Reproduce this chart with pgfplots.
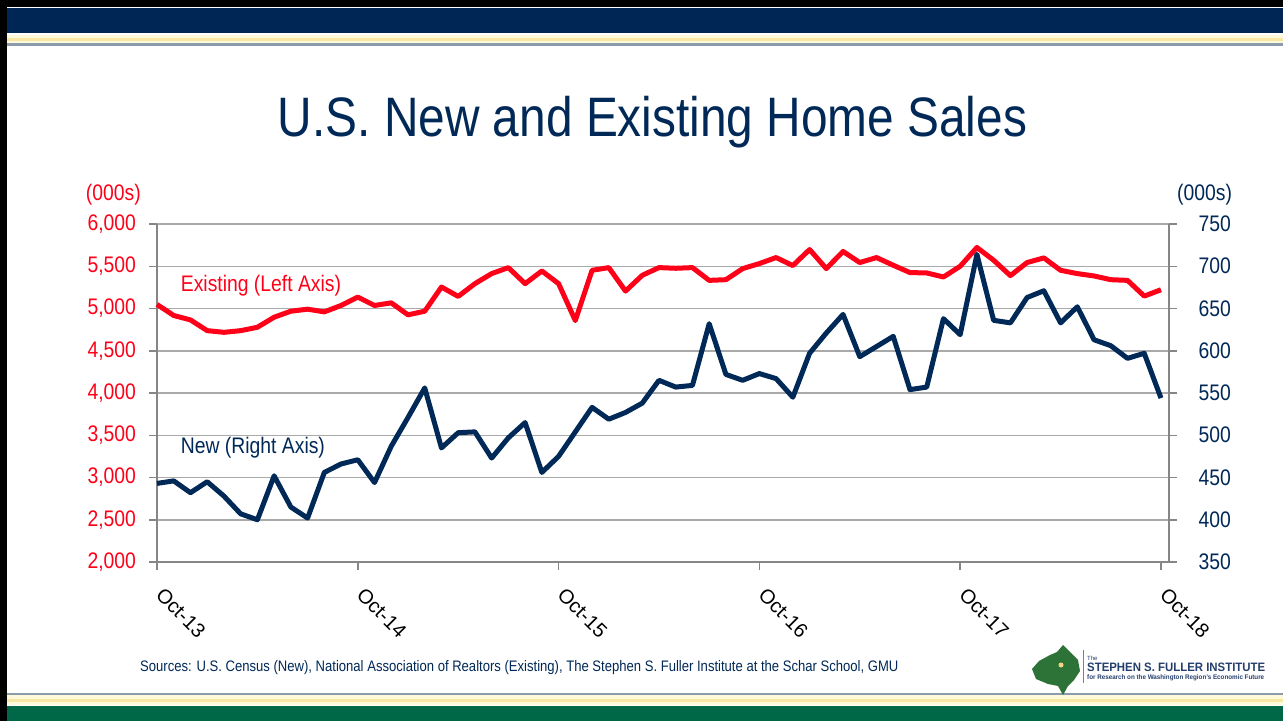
\documentclass[border=0pt]{standalone}
\usepackage{pgfplots}
\pgfplotsset{compat=1.18}
\usepackage{pgfplotstable}
\usepackage{fontspec}
\setmainfont{Liberation Sans}
\definecolor{navy}{RGB}{0,41,87}
\definecolor{myred}{RGB}{255,0,25}
\definecolor{gridc}{RGB}{170,170,170}
\definecolor{axc}{RGB}{134,134,134}
\definecolor{bannernavy}{RGB}{0,38,86}
\definecolor{bgreen}{RGB}{0,104,70}
\definecolor{cream}{RGB}{255,249,220}
\definecolor{yel}{RGB}{246,231,165}
\definecolor{strgray}{RGB}{140,155,170}
\definecolor{logogreen}{RGB}{45,115,55}
\definecolor{logoblue}{RGB}{37,63,109}

\pgfplotstableread{
i e n
0 5048 443
1 4917 446
2 4865 432
3 4738 445
4 4718 428
5 4738 407
6 4778 400
7 4897 452
8 4968 415
9 4992 402
10 4960 456
11 5036 466
12 5135 471
13 5036 444
14 5067 487
15 4925 521
16 4968 556
17 5254 485
18 5143 503
19 5294 504
20 5413 473
21 5484 497
22 5294 515
23 5444 456
24 5294 475
25 4857 504
26 5452 533
27 5484 519
28 5206 527
29 5393 538
30 5484 565
31 5476 557
32 5484 559
33 5333 632
34 5341 572
35 5472 565
36 5532 573
37 5603 567
38 5508 545
39 5698 597
40 5472 621
41 5675 643
42 5544 593
43 5603 605
44 5512 617
45 5425 554
46 5421 557
47 5373 638
48 5500 619
49 5722 714
50 5571 636
51 5389 633
52 5544 663
53 5599 671
54 5452 633
55 5413 652
56 5385 613
57 5341 606
58 5333 591
59 5147 597
60 5222 544
}\homedata

\begin{document}
\begin{tikzpicture}[x=1pt,y=1pt]
\path[use as bounding box] (0,0) rectangle (1283,721);
% frame and banners
\fill[black] (0,0) rectangle (1283,721);
\fill[white] (7,0) rectangle (1283,714);
\fill[bannernavy] (7,{721-33}) rectangle (1283,{721-8});
\fill[cream] (7,{721-38}) rectangle (1283,{721-35});
\fill[yel] (7,{721-41}) rectangle (1283,{721-38});
\fill[cream] (7,{721-43}) rectangle (1283,{721-41});
\fill[strgray] (7,{721-46}) rectangle (1283,{721-43});
% bottom
\fill[strgray] (7,{721-695}) rectangle (1283,{721-693});
\fill[cream] (7,{721-699}) rectangle (1283,{721-695});
\fill[yel] (7,{721-702}) rectangle (1283,{721-699});
\fill[cream] (7,{721-705}) rectangle (1283,{721-702});
\fill[bgreen] (7,0) rectangle (1283,{721-706});

% title
\node[anchor=base, text=navy, xscale=0.86, inner sep=0pt, font=\fontsize{55.6}{60}\selectfont] at (652.5,{721-137}) {U.S. New and Existing Home Sales};

\begin{axis}[
  at={(157pt,159pt)}, anchor=south west, scale only axis,
  width=1012pt, height=338pt,
  xmin=0, xmax=60.48, ymin=2000, ymax=6000,
  axis x line*=bottom, axis y line*=left,
  axis line style={axc, line width=1.8pt, -},
  xtick={0,12,24,36,48,60},
  xticklabels={Oct-13,Oct-14,Oct-15,Oct-16,Oct-17,Oct-18},
  ytick={2000,2500,...,6000},
  ymajorgrids, grid style={gridc, line width=1.5pt},
  tick style={axc, line width=1.5pt},
  tick align=outside, major tick length=8pt,
  scaled y ticks=false,
  /pgf/number format/assume math mode=true,
  /pgf/number format/1000 sep={,},
  yticklabel style={text=myred, font=\fontsize{22.5}{25}\selectfont, xscale=0.86, anchor=east, inner sep=0pt, xshift=-15pt},
  xticklabel style={text=black, font=\fontsize{20}{22}\selectfont, rotate=-45, anchor=north west, inner sep=0pt, xshift=17pt, yshift=-6pt},
  clip=false,
]
\addplot[myred, line width=5pt, line join=round] table[x=i, y=e] {\homedata};
\end{axis}

\begin{axis}[
  at={(157pt,159pt)}, anchor=south west, scale only axis,
  width=1012pt, height=338pt,
  xmin=0, xmax=60.48, ymin=350, ymax=750,
  axis x line=none, axis y line*=right,
  axis line style={axc, line width=1.8pt, -},
  ytick={350,400,...,750},
  tick style={axc, line width=1.5pt},
  tick align=outside, major tick length=8pt,
  /pgf/number format/assume math mode=true,
  yticklabel style={text=navy, font=\fontsize{22.5}{25}\selectfont, xscale=0.86, anchor=west, inner sep=0pt, xshift=25pt},
  clip=false,
]
\addplot[navy, line width=5pt, line join=round] table[x=i, y=n] {\homedata};
\end{axis}

% unit labels
\node[anchor=east, text=myred, xscale=0.86, inner sep=0pt, font=\fontsize{22.5}{25}\selectfont] at (141,{721-195}) {(000s)};
\node[anchor=west, text=navy, xscale=0.86, inner sep=0pt, font=\fontsize{22.5}{25}\selectfont] at (1177,{721-195}) {(000s)};
% series labels
\node[anchor=base west, text=myred, xscale=0.86, inner sep=0pt, font=\fontsize{22.5}{25}\selectfont] at (180.7,{721-291.5}) {Existing (Left Axis)};
\node[anchor=base west, text=navy, xscale=0.86, inner sep=0pt, font=\fontsize{22.5}{25}\selectfont] at (180.7,{721-453.3}) {New (Right Axis)};

% sources
\node[anchor=base west, text=navy, xscale=0.86, inner sep=0pt, font=\fontsize{15.2}{17}\selectfont] at (140,{721-671}) {Sources: U.S. Census (New), National Association of Realtors (Existing), The Stephen S. Fuller Institute at the Schar School, GMU};

% logo
\fill[logogreen] (1063,{721-645}) -- (1070,{721-652}) -- (1078,{721-660}) -- (1080,{721-671}) -- (1074,{721-680}) -- (1068,{721-686}) -- (1063,{721-695}) -- (1058,{721-686}) -- (1048,{721-684}) -- (1036,{721-679}) -- (1032,{721-669}) -- (1039,{721-661}) -- (1050,{721-655}) -- (1057,{721-652}) -- cycle;
\fill[yel!80!orange] (1061,{721-665}) circle (2.5);
\draw[gray, line width=0.8pt] (1083,{721-650}) -- (1083,{721-683});
\node[anchor=base west, text=logoblue, inner sep=0pt, font=\fontsize{6}{7}\selectfont] at (1087,{721-660}) {The};
\node[anchor=base west, text=logoblue, inner sep=0pt] at (1087,{721-671}) {\resizebox{178pt}{8.5pt}{\bfseries STEPHEN S. FULLER INSTITUTE}};
\node[anchor=base west, text=logoblue, inner sep=0pt] at (1087,{721-679}) {\resizebox{177pt}{4.8pt}{\bfseries for Research on the Washington Region's Economic Future}};
\end{tikzpicture}
\end{document}
